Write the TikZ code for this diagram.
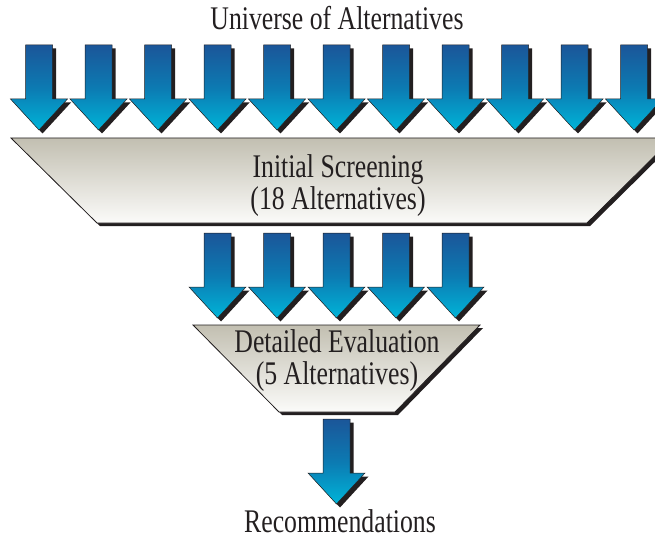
\documentclass[tikz,border=0pt]{standalone}
\usepackage{fontspec}
\setmainfont{Liberation Serif}[FakeStretch=0.78]
\usepackage{tikz}

\definecolor{arrowtop}{HTML}{1B5699}
\definecolor{arrowmid}{HTML}{0C7AB2}
\definecolor{arrowtip}{HTML}{00B4D8}
\definecolor{screentop}{HTML}{C2BFB1}
\definecolor{screenbot}{HTML}{FBFBF9}
\definecolor{inkblack}{HTML}{231F20}

\tikzset{
	arrowbody/.style={draw=inkblack, line width=0.5pt, top color=arrowtop, bottom color=arrowtip, middle color=arrowmid},
	arrowshade/.style={fill=inkblack, shift={(3.5,3.5)}},
	screenbody/.style={draw=inkblack, line width=0.8pt, top color=screentop, bottom color=screenbot},
	screenshade/.style={fill=inkblack, shift={(3,3)}},
	stagetext/.style={text=inkblack, font=\fontsize{33}{32}\selectfont, align=center, inner sep=0pt}
}
\def\altarrow(#1,#2){\begin{scope}[shift={(#1,#2)}]
	\fill[arrowshade] (-13.5,0) -- (13.5,0) -- (13.5,54) -- (28.5,54) -- (0,85) -- (-28.5,54) -- (-13.5,54) -- cycle;
	\draw[arrowbody] (-13.5,0) -- (13.5,0) -- (13.5,54) -- (28.5,54) -- (0,85) -- (-28.5,54) -- (-13.5,54) -- cycle;
\end{scope}}

\begin{document}
\begin{tikzpicture}[x=1pt, y=-1pt]
				\useasboundingbox (0,0) rectangle (655,540);
				
				\node[stagetext, anchor=base] (universe) at (337,30) {Universe of Alternatives};
				
				% top row
				\altarrow(39,45)
				\altarrow(98.5,45)
				\altarrow(158,45)
				\altarrow(217.5,45)
				\altarrow(277,45)
				\altarrow(336.5,45)
				\altarrow(396,45)
				\altarrow(455.5,45)
				\altarrow(515,45)
				\altarrow(574.5,45)
				\altarrow(634,45)
				
				\fill[screenshade] (11,138) -- (673,138) -- (587,223) -- (97,223) -- cycle;
				\draw[screenbody] (11,138) -- (673,138) -- (587,223) -- (97,223) -- cycle;
				\node[stagetext] (screening) at (338,186) {Initial Screening\\(18 Alternatives)};
				
				% second row
				\altarrow(217.5,233)
				\altarrow(277,233)
				\altarrow(336.5,233)
				\altarrow(396,233)
				\altarrow(455.5,233)
				
				\fill[screenshade] (193,325) -- (480,325) -- (395,412) -- (279,412) -- cycle;
				\draw[screenbody] (193,325) -- (480,325) -- (395,412) -- (279,412) -- cycle;
				\node[stagetext] (evaluation) at (337,361) {Detailed Evaluation\\(5 Alternatives)};
				
				\altarrow(336.5,419)
				
				\node[stagetext, anchor=base] (recommend) at (340,532) {Recommendations};
			\end{tikzpicture}
\end{document}
